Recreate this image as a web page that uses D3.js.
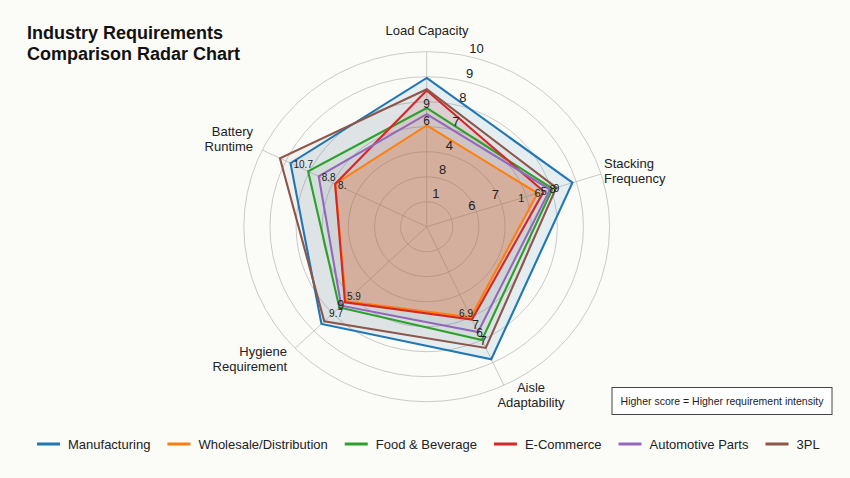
<!DOCTYPE html>
<html>
<head>
<meta charset="utf-8">
<script src="https://cdn.jsdelivr.net/npm/d3@7"></script>
<style>
  body { margin: 0; background: #fbfbf8; }
  svg { display: block; font-family: "Liberation Sans", Arial, sans-serif; }
</style>
</head>
<body>
<svg id="chart" width="850" height="478"></svg>
<script>
// chart data
const axes = ['Load Capacity', 'Stacking Frequency', 'Aisle Adaptability', 'Hygiene Requirement', 'Battery Runtime'];
const seriesNames = ['Manufacturing', 'Wholesale/Distribution', 'Food & Beverage', 'E-Commerce', 'Automotive Parts', '3PL'];
const manufacturing = [8.95, 8.85, 8.85, 8.6, 8.8];
const wholesale = [7.05, 7.45, 7.0, 7.3, 6.9];
const foodBeverage = [7.75, 8.05, 8.0, 7.65, 8.05];
const eCommerce = [8.45, 7.7, 7.1, 7.35, 6.9];
const automotive = [7.5, 7.95, 7.65, 7.55, 7.6];
const thirdParty = [8.5, 8.2, 8.35, 8.45, 9.25];
const seriesValues = [manufacturing, wholesale, foodBeverage, eCommerce, automotive, thirdParty];

// rings and the (odd) radial tick labels as printed
const ringValues = [4, 5, 6, 7, 8, 9, 10];
const ringLabels = ['1', '8', '4', '7', '8', '9', '10'];
const extraTickValues = [5, 6];
const extraTickLabels = ['6', '7'];

// point labels: series index, axis index, text, value where it sits
const labelSeries = [2, 1, 5, 2, 3, 1, 1, 0, 4, 1, 3, 2, 5, 3, 4, 2, 5];
const labelAxis = [0, 0, 1, 1, 1, 1, 1, 4, 4, 4, 3, 3, 3, 2, 2, 2, 2];
const labelText = ['9', '6', '9', '8', '5', '6', '1', '10.7', '8.8', '8.', '5.9', '9', '9.7', '6.9', '7', '6', '7'];
const labelValue = [7.75, 7.05, 8.2, 8.05, 7.7, 7.45, 6.8, 8.8, 7.6, 6.9, 7.35, 7.85, 8.3, 7.1, 7.65, 8.0, 8.35];

const noteText = 'Higher score = Higher requirement intensity';

// layout
const colors = ['#1f77b4', '#ff7f0e', '#2ca02c', '#d62728', '#9467bd', '#8c564b'];
const fillOpacity = [0.1, 0.25, 0.06, 0.1, 0.08, 0.06];
const axisAngles = [0, 72.5, 155, 226, 296];   // degrees, clockwise from top
const cx = 426.7, cy = 226.7, sx = 1.045;
const labelRule = [
  {anchor: 'middle', dx: 0, dy: 0},
  {anchor: 'end', dx: 3, dy: 4},
  {anchor: 'end', dx: 1, dy: -3},
  {anchor: 'start', dx: 2, dy: -2},
  {anchor: 'start', dx: 3, dy: 5}
];

const svg = d3.select('#chart');
const r = d3.scaleLinear().domain([3, 10]).range([0, 175]);

function pt(angleDeg, rad) {
  var a = angleDeg * Math.PI / 180;
  return [cx + sx * rad * Math.sin(a), cy - rad * Math.cos(a)];
}

// grid rings
svg.append('g').selectAll('ellipse')
  .data(ringValues)
  .join('ellipse')
  .attr('cx', cx).attr('cy', cy)
  .attr('rx', d => sx * r(d)).attr('ry', d => r(d))
  .attr('fill', 'none')
  .attr('stroke', '#c4c4c4')
  .attr('stroke-width', 0.9);

// axis spokes
svg.append('g').selectAll('line')
  .data(axisAngles)
  .join('line')
  .attr('x1', cx).attr('y1', cy)
  .attr('x2', d => pt(d, r(10))[0])
  .attr('y2', d => pt(d, r(10))[1])
  .attr('stroke', '#c4c4c4')
  .attr('stroke-width', 0.9);

// series polygons
const line = d3.line().curve(d3.curveLinearClosed);
const polys = svg.append('g');
seriesValues.forEach(function(vals, i) {
  var pts = vals.map((v, j) => pt(axisAngles[j], r(v)));
  polys.append('path')
    .attr('d', line(pts))
    .attr('fill', colors[i])
    .attr('fill-opacity', fillOpacity[i])
    .attr('stroke', 'none');
});
seriesValues.forEach(function(vals, i) {
  var pts = vals.map((v, j) => pt(axisAngles[j], r(v)));
  polys.append('path')
    .attr('d', line(pts))
    .attr('fill', 'none')
    .attr('stroke', colors[i])
    .attr('stroke-width', 2.1)
    .attr('stroke-linejoin', 'miter');
});

// radial tick labels
const ticks = svg.append('g').attr('font-size', 13).attr('fill', '#222');
ringValues.forEach(function(v, i) {
  var p = pt(15, r(v) + 9);
  ticks.append('text')
    .attr('x', p[0]).attr('y', p[1])
    .attr('text-anchor', 'middle')
    .attr('dominant-baseline', 'central')
    .text(ringLabels[i]);
});
extraTickValues.forEach(function(v, i) {
  var p = pt(64, r(v) - 2);
  ticks.append('text')
    .attr('x', p[0]).attr('y', p[1])
    .attr('text-anchor', 'middle')
    .attr('dominant-baseline', 'central')
    .text(extraTickLabels[i]);
});

// point labels
const pl = svg.append('g').attr('fill', '#222');
labelText.forEach(function(t, i) {
  var a = labelAxis[i];
  var rule = labelRule[a];
  var p = pt(axisAngles[a], r(labelValue[i]));
  pl.append('text')
    .attr('x', p[0] + rule.dx).attr('y', p[1] + rule.dy)
    .attr('text-anchor', rule.anchor)
    .attr('font-size', t.length > 1 ? 10 : (a === 1 ? 11 : 12))
    .text(t);
});

// axis names
const axisText = svg.append('g').attr('font-size', 13).attr('fill', '#222');
function axisLabel(lines, x, y, anchor) {
  var t = axisText.append('text').attr('text-anchor', anchor);
  lines.forEach(function(s, k) {
    t.append('tspan').attr('x', x).attr('y', y + k * 15).attr('dominant-baseline', 'central').text(s);
  });
}
axisLabel([axes[0]], 427, 30, 'middle');
axisLabel(['Stacking', 'Frequency'], 604, 163.5, 'start');
axisLabel(['Aisle', 'Adaptability'], 531, 387, 'middle');
axisLabel(['Hygiene', 'Requirement'], 287, 351.5, 'end');
axisLabel(['Battery', 'Runtime'], 253, 131.5, 'end');

// title
svg.append('text')
  .attr('x', 27).attr('y', 39)
  .attr('font-size', 18).attr('font-weight', 'bold').attr('fill', '#111')
  .text('Industry Requirements');
svg.append('text')
  .attr('x', 27).attr('y', 59.5)
  .attr('font-size', 18).attr('font-weight', 'bold').attr('fill', '#111')
  .text('Comparison Radar Chart');

// note box
svg.append('rect')
  .attr('x', 612).attr('y', 387.5).attr('width', 220).attr('height', 27)
  .attr('fill', '#fff').attr('stroke', '#444').attr('stroke-width', 1);
svg.append('text')
  .attr('x', 722).attr('y', 401)
  .attr('text-anchor', 'middle').attr('dominant-baseline', 'central')
  .attr('font-size', 10.5).attr('fill', '#222')
  .text(noteText);

// legend
const legend = svg.append('g');
var lx = 37;
seriesNames.forEach(function(name, i) {
  legend.append('line')
    .attr('x1', lx).attr('x2', lx + 23)
    .attr('y1', 444).attr('y2', 444)
    .attr('stroke', colors[i]).attr('stroke-width', 3);
  var t = legend.append('text')
    .attr('x', lx + 31).attr('y', 444)
    .attr('dominant-baseline', 'central')
    .attr('font-size', 13).attr('fill', '#222')
    .text(name);
  lx = lx + 31 + t.node().getComputedTextLength() + 17;
});
</script>
</body>
</html>
